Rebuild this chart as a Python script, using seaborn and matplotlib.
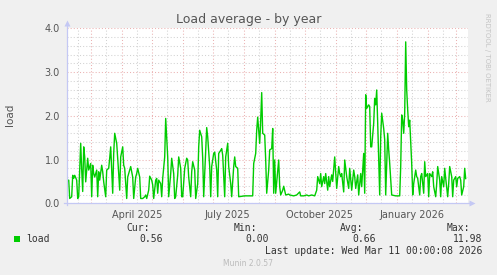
import numpy as np
import pandas as pd
import matplotlib
matplotlib.use("Agg")
import matplotlib.pyplot as plt
import matplotlib.dates as mdates
from matplotlib.patches import Rectangle
import seaborn as sns

# ---- data ----
start_date = "2025-02-05"
days = [1, 2, 3, 5, 6, 7, 8, 10, 11, 12, 14, 15, 16, 17, 18, 19, 20, 21, 22, 24,
        25, 26, 27, 28, 30, 31, 32, 33, 35, 36, 37, 39, 40, 42, 43, 44, 46, 47, 48, 50,
        51, 52, 53, 54, 56, 57, 58, 60, 61, 63, 64, 66, 67, 69, 70, 71, 73, 74, 76, 78,
        79, 80, 82, 83, 85, 86, 87, 89, 90, 91, 92, 94, 95, 96, 98, 99, 101, 102, 104, 105,
        107, 108, 109, 111, 112, 114, 115, 116, 118, 120, 121, 122, 124, 125, 126, 128, 129, 131, 132, 133,
        135, 136, 137, 139, 140, 141, 143, 144, 145, 147, 148, 150, 151, 152, 154, 155, 156, 158, 159, 161,
        162, 164, 165, 167, 168, 169, 171, 172, 178, 186, 187, 189, 190, 191, 193, 194, 195, 196, 198, 199,
        200, 202, 203, 205, 206, 207, 208, 209, 212, 213, 214, 216, 217, 219, 222, 223, 227, 230, 233, 234,
        237, 240, 242, 245, 248, 250, 251, 253, 254, 255, 257, 258, 259, 261, 262, 263, 265, 266, 268, 269,
        270, 272, 273, 274, 275, 277, 278, 280, 282, 283, 285, 287, 288, 289, 291, 292, 294, 295, 297, 298,
        299, 300, 302, 303, 304, 305, 307, 308, 309, 310, 311, 313, 314, 315, 317, 318, 319, 321, 322, 323,
        325, 329, 333, 334, 335, 336, 337, 338, 339, 340, 341, 342, 343, 345, 346, 347, 349, 350, 351, 353,
        354, 355, 357, 358, 359, 361, 362, 363, 365, 366, 367, 369, 370, 371, 373, 374, 375, 377, 378, 379,
        381, 382, 383, 385, 386, 387, 389, 390, 391, 393, 394, 395, 397, 398, 399]
load = [0.52, 0.53, 0.11, 0.15, 0.64, 0.57, 0.64, 0.53, 0.11, 0.15, 1.37, 0.76, 0.27, 1.29, 1.06, 0.49, 0.76, 1.03, 0.76, 0.91,
        0.15, 0.87, 0.68, 0.60, 0.76, 0.15, 0.72, 0.53, 0.87, 0.72, 0.49, 0.15, 0.76, 0.80, 1.03, 1.29, 0.23, 1.14, 1.60, 1.37,
        1.03, 0.68, 0.30, 1.06, 1.29, 0.87, 0.80, 0.11, 0.60, 0.76, 0.84, 0.60, 0.11, 0.60, 0.68, 0.80, 0.60, 0.11, 0.11, 0.15,
        0.19, 0.11, 0.30, 0.62, 0.53, 0.42, 0.11, 0.53, 0.57, 0.23, 0.53, 0.45, 0.15, 0.57, 1.06, 1.94, 1.06, 0.15, 0.68, 1.03,
        0.68, 0.11, 0.15, 0.64, 1.06, 0.80, 0.15, 0.15, 0.80, 1.03, 0.99, 0.60, 0.15, 0.72, 0.95, 0.76, 0.11, 0.45, 1.29, 1.67,
        1.52, 1.03, 0.15, 1.21, 1.73, 1.52, 0.84, 0.15, 0.84, 1.14, 1.17, 0.76, 0.15, 1.14, 1.21, 1.25, 1.10, 0.15, 1.06, 1.37,
        0.84, 0.45, 0.15, 0.84, 1.06, 0.84, 0.80, 0.15, 0.17, 0.17, 0.91, 1.14, 1.67, 1.97, 1.37, 1.90, 2.53, 1.60, 1.56, 0.99,
        0.23, 0.76, 1.22, 1.25, 1.71, 0.23, 0.99, 0.23, 0.99, 0.38, 0.19, 0.30, 0.39, 0.19, 0.21, 0.19, 0.17, 0.19, 0.26, 0.17,
        0.17, 0.19, 0.17, 0.19, 0.17, 0.30, 0.61, 0.45, 0.68, 0.38, 0.61, 0.45, 0.68, 0.30, 0.61, 0.38, 0.65, 0.50, 1.06, 0.68,
        0.34, 0.84, 0.68, 0.61, 0.68, 0.26, 0.99, 0.61, 0.34, 0.80, 0.30, 0.76, 0.61, 0.34, 0.65, 0.19, 0.68, 0.38, 1.14, 0.23,
        2.48, 2.17, 2.25, 2.21, 1.29, 1.29, 1.83, 2.40, 2.25, 2.59, 1.83, 0.19, 1.52, 2.06, 1.71, 1.45, 0.19, 1.60, 1.22, 0.91,
        0.19, 0.17, 0.17, 0.84, 2.02, 1.90, 1.60, 2.06, 3.69, 2.59, 2.13, 1.75, 1.90, 0.91, 0.19, 0.45, 0.76, 0.61, 0.57, 0.19,
        0.61, 0.68, 0.23, 0.95, 0.61, 0.68, 0.15, 0.68, 0.61, 0.72, 0.38, 0.15, 0.45, 0.84, 0.53, 0.15, 0.61, 0.38, 0.80, 0.57,
        0.15, 0.45, 0.84, 0.61, 0.15, 0.53, 0.61, 0.38, 0.57, 0.61, 0.53, 0.19, 0.38, 0.80, 0.56]

y_ticks = [0.0, 1.0, 2.0, 3.0, 4.0]
x_label_dates = ["2025-04-16", "2025-07-16", "2025-10-16", "2026-01-16"]
x_label_text = ["April 2025", "July 2025", "October 2025", "January 2026"]
legend_name = "load"
stat_names = ["Cur:", "Min:", "Avg:", "Max:"]
stat_values = ["0.56", "0.00", "0.66", "11.98"]
title = "Load average - by year"
ylabel = "load"
last_update = "Last update: Wed Mar 11 00:00:08 2026"
footer = "Munin 2.0.57"
side_text = "RRDTOOL / TOBI OETIKER"

# ---- styling ----
W, H = 497, 275
BG = "#F0F0F0"
GREEN = "#00CC00"
TXT = "#555555"
AXBLUE = "#C4C8F4"
RED = "#EBB2B2"
GRAY = "#D2D2D2"

sns.set_theme(style="white")
plt.rcParams["font.family"] = ["DejaVu Sans"]

t0 = pd.Timestamp(start_date)
df = pd.DataFrame({"date": t0 + pd.to_timedelta(days, unit="D"), "load": load})

fig = plt.figure(figsize=(W / 100, H / 100), dpi=100, facecolor=BG)

def fx(x):
    return x / W

def fy(y):
    return 1 - y / H

left, right, top, bottom = 66.7, 468.0, 28.3, 203.3
ax = fig.add_axes([fx(left), fy(bottom), fx(right - left), (bottom - top) / H])
ax.set_facecolor("white")

sns.lineplot(data=df, x="date", y="load", ax=ax, color=GREEN, lw=1.0, zorder=3)

ax.set_xlim(t0, t0 + pd.Timedelta(days=401.3))
ax.set_ylim(0, 4.0)

# grids
ax.xaxis.set_major_locator(mdates.MonthLocator(bymonthday=1))
ax.xaxis.set_minor_locator(mdates.MonthLocator(bymonthday=16))
ax.yaxis.set_major_locator(matplotlib.ticker.FixedLocator(y_ticks))
ax.yaxis.set_minor_locator(matplotlib.ticker.MultipleLocator(0.2))
ax.grid(which="minor", color=GRAY, lw=0.75, ls=(0, (1, 2)), zorder=1)
ax.grid(which="major", color=RED, lw=0.75, ls=(0, (1, 2)), zorder=2)
ax.set_axisbelow(True)

ax.tick_params(axis="x", which="both", length=0, labelbottom=False)
for d, s in zip(x_label_dates, x_label_text):
    ax.text(pd.Timestamp(d), -0.04, s, transform=ax.get_xaxis_transform(),
            ha="center", va="top", fontsize=7, color=TXT)

ax.set_yticklabels([f"{v:.1f}" for v in y_ticks])
ax.tick_params(axis="y", which="both", length=0, pad=4.8, labelsize=7, labelcolor=TXT)
ax.set_xlabel("")
ax.set_ylabel("")

for s in ["top", "right"]:
    ax.spines[s].set_visible(False)
for s in ["left", "bottom"]:
    ax.spines[s].set_color(AXBLUE)
    ax.spines[s].set_linewidth(0.9)
    ax.spines[s].set_zorder(4)
x0n = mdates.date2num(t0)
ax.spines["bottom"].set_bounds(x0n - 2.5, x0n + 404)
ax.spines["left"].set_bounds(-0.05, 4.1)
# arrow heads
ax.plot([0], [1.03], transform=ax.transAxes, marker="^", ms=4.5, color=AXBLUE,
        mec="none", clip_on=False, zorder=5)
ax.plot([1.01], [0], transform=ax.transAxes, marker=">", ms=4.5, color=AXBLUE,
        mec="none", clip_on=False, zorder=5)

# title and labels
fig.text(fx(248.5), fy(20), title, ha="center", va="center", fontsize=9, color=TXT)
fig.text(fx(10), fy(115), ylabel, ha="center", va="center", rotation=90,
         fontsize=7.5, color=TXT)
fig.text(fx(487.5), fy(57), side_text, ha="center", va="center", rotation=270,
         fontsize=5, color="#C4C4C4")

# legend
mono = "DejaVu Sans Mono"
fig.patches.append(Rectangle((fx(14), fy(242.3)), 6 / W, 6 / H, transform=fig.transFigure,
                             facecolor=GREEN, edgecolor="none"))
fig.text(fx(26.7), fy(239.3), legend_name, ha="left", va="center", fontsize=7,
         family=mono, color="#333333")
name_x = [150, 257.3, 363.3, 470]
val_x = [162.7, 269.3, 375.7, 482.7]
for nx, n in zip(name_x, stat_names):
    fig.text(fx(nx), fy(227.7), n, ha="right", va="center", fontsize=7, family=mono, color="#333333")
for vx, v in zip(val_x, stat_values):
    fig.text(fx(vx), fy(239.3), v, ha="right", va="center", fontsize=7, family=mono, color="#333333")
fig.text(fx(482.7), fy(251), last_update, ha="right", va="center", fontsize=7,
         family=mono, color="#333333")
fig.text(fx(248), fy(264), footer, ha="center", va="center", fontsize=5.5, color="#BBBBBB")

fig.savefig("out.png", dpi=100, facecolor=BG)
